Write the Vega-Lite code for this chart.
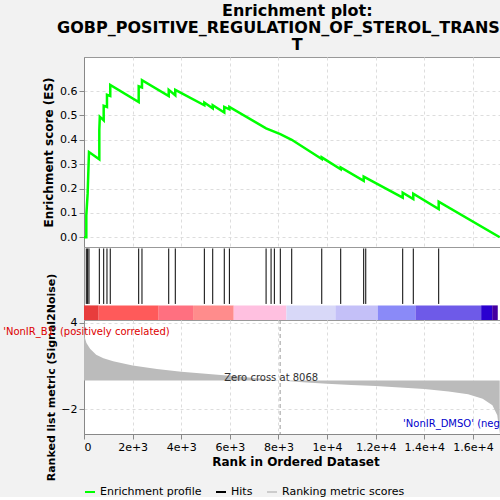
{
"$schema":"https://vega.github.io/schema/vega-lite/v6.json",
"background":"#f2f2f2",
"padding":{"left":2,"top":2,"right":2,"bottom":0},
"bounds":"flush",
"title":{"text":["Enrichment plot:","GOBP_POSITIVE_REGULATION_OF_STEROL_TRANSPOR","T"],"fontSize":16,"font":"DejaVu Sans","fontWeight":"bold","lineHeight":17,"offset":4,"anchor":"middle"},
"config":{"view":{"fill":"white","stroke":"#999"},"axis":{"labelFont":"DejaVu Sans","titleFont":"DejaVu Sans","labelFontSize":11,"titleFontSize":12,"gridDash":[3,3],"gridColor":"#ddd"}},
"spacing":0,
"datasets":{
"es":[{"r":0,"v":0},{"r":95,"v":0},{"r":95,"v":0.09},{"r":150,"v":0.18},{"r":205,"v":0.35},{"r":630,"v":0.32},{"r":630,"v":0.44},{"r":650,"v":0.495},{"r":810,"v":0.48},{"r":810,"v":0.54},{"r":945,"v":0.535},{"r":945,"v":0.585},{"r":1080,"v":0.58},{"r":1080,"v":0.625},{"r":2250,"v":0.555},{"r":2250,"v":0.62},{"r":2385,"v":0.615},{"r":2385,"v":0.645},{"r":3485,"v":0.58},{"r":3485,"v":0.605},{"r":3755,"v":0.583},{"r":3755,"v":0.605},{"r":4950,"v":0.542},{"r":4950,"v":0.553},{"r":5295,"v":0.529},{"r":5295,"v":0.542},{"r":5770,"v":0.512},{"r":5770,"v":0.535},{"r":5980,"v":0.525},{"r":5980,"v":0.535},{"r":7490,"v":0.447},{"r":8075,"v":0.423},{"r":8545,"v":0.40},{"r":9780,"v":0.321},{"r":9780,"v":0.328},{"r":10560,"v":0.279},{"r":10560,"v":0.287},{"r":11505,"v":0.232},{"r":11505,"v":0.249},{"r":13110,"v":0.163},{"r":13110,"v":0.183},{"r":13545,"v":0.157},{"r":13545,"v":0.179},{"r":14590,"v":0.116},{"r":14590,"v":0.146},{"r":17100,"v":0}],
"hits":[{"r":95},{"r":150},{"r":205},{"r":630},{"r":810},{"r":945},{"r":1080},{"r":2250},{"r":2385},{"r":3485},{"r":3755},{"r":4950},{"r":5295},{"r":5770},{"r":5980},{"r":7490},{"r":7695},{"r":7830},{"r":8075},{"r":8545},{"r":9780},{"r":10560},{"r":11505},{"r":11590},{"r":13110},{"r":13545},{"r":14590}],
"bar":[{"a":0,"b":603,"c":"#e83c3c"},{"a":603,"b":3072,"c":"#ff5a5a"},{"a":3072,"b":4486,"c":"#ff7080"},{"a":4486,"b":6159,"c":"#ff8c8c"},{"a":6159,"b":8326,"c":"#ffc0e0"},{"a":8326,"b":10342,"c":"#d8d8f8"},{"a":10342,"b":12085,"c":"#c4c0f8"},{"a":12085,"b":13635,"c":"#8a8af8"},{"a":13635,"b":16337,"c":"#6e5ae8"},{"a":16337,"b":16790,"c":"#2a00d0"},{"a":16790,"b":17020,"c":"#4400a0"}],
"metric":[{"r":0,"m":4.2},{"r":30,"m":3.0},{"r":100,"m":2.6},{"r":250,"m":2.2},{"r":500,"m":1.8},{"r":800,"m":1.55},{"r":1200,"m":1.35},{"r":2000,"m":1.05},{"r":3000,"m":0.8},{"r":4000,"m":0.62},{"r":5000,"m":0.47},{"r":6000,"m":0.33},{"r":7000,"m":0.18},{"r":8068,"m":0},{"r":9000,"m":-0.12},{"r":10000,"m":-0.22},{"r":11000,"m":-0.3},{"r":12000,"m":-0.38},{"r":13000,"m":-0.47},{"r":14000,"m":-0.58},{"r":15000,"m":-0.75},{"r":15800,"m":-0.95},{"r":16400,"m":-1.25},{"r":16800,"m":-1.7},{"r":17000,"m":-2.4},{"r":17100,"m":-3.7}]
},
"vconcat":[
{"width":423,"height":190,"data":{"name":"es"},
 "mark":{"type":"line","color":"#00ff00","strokeWidth":2.5,"interpolate":"linear"},
 "encoding":{"x":{"field":"r","type":"quantitative","scale":{"domain":[0,17400],"nice":false},"axis":{"labels":false,"ticks":false,"title":null,"grid":true,"values":[2000,4000,6000,8000,10000,12000,14000,16000]}},
 "y":{"field":"v","type":"quantitative","scale":{"domain":[-0.04,0.74],"nice":false},"axis":{"title":"Enrichment score (ES)","values":[0,0.1,0.2,0.3,0.4,0.5,0.6],"format":".1f","grid":true}}}},
{"width":423,"height":73,
 "layer":[
 {"data":{"name":"hits"},"mark":{"type":"rule","color":"black","strokeWidth":1},
  "encoding":{"x":{"field":"r","type":"quantitative","scale":{"domain":[0,17400],"nice":false},"axis":null},"y":{"datum":0.22,"type":"quantitative","scale":{"domain":[0,1]},"axis":null},"y2":{"datum":0.98}}},
 {"data":{"name":"bar"},"mark":{"type":"rect"},
  "encoding":{"x":{"field":"a","type":"quantitative"},"x2":{"field":"b"},"y":{"datum":0},"y2":{"datum":0.2},"color":{"field":"c","type":"nominal","scale":null}}}
 ]},
{"width":423,"height":114,
 "layer":[
 {"data":{"name":"metric"},"mark":{"type":"area","color":"#bbbbbb"},
  "encoding":{"x":{"field":"r","type":"quantitative","scale":{"domain":[0,17400],"nice":false},"axis":{"title":"Rank in Ordered Dataset","format":",","values":[0,2000,4000,6000,8000,10000,12000,14000,16000],"grid":true}},
  "y":{"field":"m","type":"quantitative","scale":{"domain":[-3.7,4.2],"nice":false},"axis":{"title":"Ranked list metric (Signal2Noise)","titleFontSize":11,"values":[-2,0,2,4],"grid":true}}}},
 {"data":{"values":[{"r":8068}]},"mark":{"type":"rule","color":"#999","strokeDash":[4,3]},"encoding":{"x":{"field":"r","type":"quantitative"}}},
 {"data":{"values":[{"r":100,"m":3.4,"t":"'NonIR_B1' (positively correlated)","c":"#dd0000","a":"left"},{"r":7700,"m":0.2,"t":"Zero cross at 8068","c":"#333333","a":"right"},{"r":17000,"m":-3.0,"t":"'NonIR_DMSO' (negatively correlated)","c":"#0000cc","a":"right"}]},
  "mark":{"type":"text","fontSize":10,"font":"DejaVu Sans","baseline":"middle"},
  "encoding":{"x":{"field":"r","type":"quantitative"},"y":{"field":"m","type":"quantitative"},"text":{"field":"t"},"color":{"field":"c","type":"nominal","scale":null},"align":{"field":"a","type":"nominal","scale":null}}},
 {"data":{"values":[{"k":"Enrichment profile"},{"k":"Hits"},{"k":"Ranking metric scores"}]},"mark":{"type":"point","opacity":0},
  "encoding":{"x":{"datum":0,"type":"quantitative"},"y":{"datum":0,"type":"quantitative"},"color":{"field":"k","type":"nominal","scale":{"domain":["Enrichment profile","Hits","Ranking metric scores"],"range":["#00ff00","black","#cccccc"]},
  "legend":{"title":null,"orient":"bottom","direction":"horizontal","symbolType":"stroke","symbolStrokeWidth":2,"symbolOpacity":1,"labelFontSize":11,"labelFont":"DejaVu Sans","offset":4}}}}
 ]}
]
}
